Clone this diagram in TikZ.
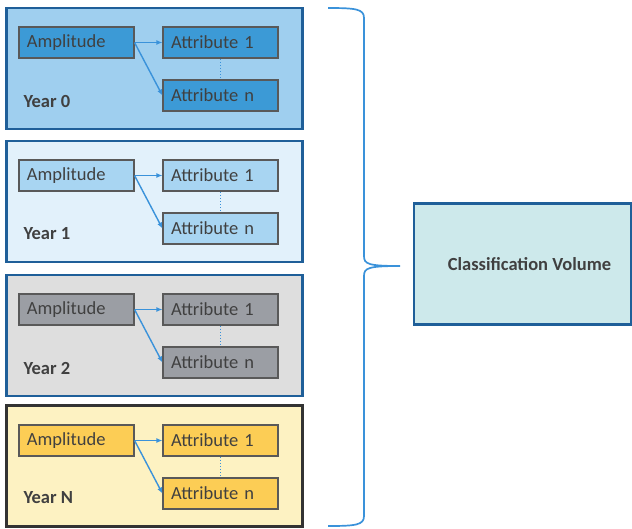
\documentclass[tikz,border=0pt]{standalone}
\usepackage{fontspec}
\setmainfont{Carlito}
\usepackage{tikz}
\usetikzlibrary{arrows.meta}

\definecolor{darkblue}{HTML}{1F5F99}
\definecolor{linkblue}{HTML}{3A92DA}
\definecolor{textgray}{HTML}{404040}
\definecolor{bgzero}{HTML}{9FCFEF}
\definecolor{boxzero}{HTML}{3C9AD6}
\definecolor{bgone}{HTML}{E2F1FB}
\definecolor{boxone}{HTML}{A8D5F2}
\definecolor{bgtwo}{HTML}{DEDEDE}
\definecolor{boxtwo}{HTML}{9B9EA4}
\definecolor{bgn}{HTML}{FDF2C2}
\definecolor{boxn}{HTML}{FCCD55}
\definecolor{volfill}{HTML}{CDE9EB}

\begin{document}
\begin{tikzpicture}[x=1pt,y=-1pt,
		font=\fontsize{18.5}{21}\selectfont,text=textgray,
		panel/.style={rectangle,draw=darkblue,line width=2.4pt,minimum width=296pt,minimum height=121pt,inner sep=0pt},
		attr/.style={rectangle,draw=black!65,line width=1.1pt,text width=99pt,align=left,inner xsep=8pt,minimum height=31pt,inner ysep=0pt},
		yearlabel/.style={anchor=west,font=\fontsize{18.5}{21}\selectfont\bfseries},
		link/.style={draw=linkblue,line width=1.4pt,-{Latex[length=6pt,width=5pt]}},
		gap/.style={draw=linkblue,line width=1.1pt,dotted}]
			\useasboundingbox (0,0) rectangle (632,528);
			% year 0
			\node[panel,fill=bgzero](p0) at (154.5,68.5) {};
			\node[attr,fill=boxzero](amp0) at (76.5,42.5) {Amplitude};
			\node[attr,fill=boxzero](ao0) at (220.5,42.5) {Attribute 1};
			\node[attr,fill=boxzero](an0) at (220.5,95.5) {Attribute n};
			\node[yearlabel](y0) at (20,101) {Year 0};
			% year 1
			\node[panel,fill=bgone](p1) at (154.5,201.5) {};
			\node[attr,fill=boxone](amp1) at (76.5,175.5) {Amplitude};
			\node[attr,fill=boxone](ao1) at (220.5,175.5) {Attribute 1};
			\node[attr,fill=boxone](an1) at (220.5,228.5) {Attribute n};
			\node[yearlabel](y1) at (20,234) {Year 1};
			% year 2
			\node[panel,fill=bgtwo](p2) at (154.5,335.5) {};
			\node[attr,fill=boxtwo](amp2) at (76.5,309.5) {Amplitude};
			\node[attr,fill=boxtwo](ao2) at (220.5,309.5) {Attribute 1};
			\node[attr,fill=boxtwo](an2) at (220.5,362.5) {Attribute n};
			\node[yearlabel](y2) at (20,368) {Year 2};
			% year N
			\node[panel,fill=bgn,draw=black!80](pn) at (154.5,466) {};
			\node[attr,fill=boxn](ampn) at (76.5,440.5) {Amplitude};
			\node[attr,fill=boxn](aon) at (220.5,440.5) {Attribute 1};
			\node[attr,fill=boxn](ann) at (220.5,493.5) {Attribute n};
			\node[yearlabel](yn) at (20,498) {Year N};
			% result
			\node[rectangle,draw=darkblue,line width=2.2pt,fill=volfill,minimum width=217pt,minimum height=121pt,font=\fontsize{18.5}{21}\selectfont\bfseries](vol) at (522.5,264) {\hspace{14pt}Classification Volume};
			\draw[link] (amp0.east)--(ao0.west);
			\draw[link] (amp0.east)--(an0.west);
			\draw[gap] (ao0.south)--(an0.north);
			\draw[link] (amp1.east)--(ao1.west);
			\draw[link] (amp1.east)--(an1.west);
			\draw[gap] (ao1.south)--(an1.north);
			\draw[link] (amp2.east)--(ao2.west);
			\draw[link] (amp2.east)--(an2.west);
			\draw[gap] (ao2.south)--(an2.north);
			\draw[link] (ampn.east)--(aon.west);
			\draw[link] (ampn.east)--(ann.west);
			\draw[gap] (aon.south)--(ann.north);
			% brace
			\coordinate (tip) at (400,266);
			\draw[draw=linkblue,line width=1.7pt] (328,8) .. controls (356,8) and (364,9) .. (364,18)
				-- (364,256) .. controls (364,264) and (368,266) .. (tip)
				(tip) .. controls (368,266) and (364,268) .. (364,276)
				-- (364,516) .. controls (364,525) and (356,526) .. (328,526);
		\end{tikzpicture}
\end{document}
